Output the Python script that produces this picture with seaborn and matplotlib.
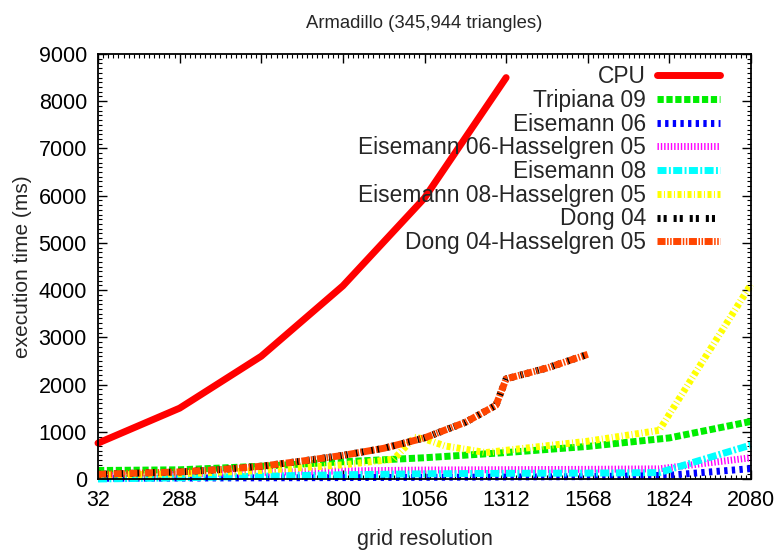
import matplotlib
matplotlib.use("Agg")
import matplotlib.pyplot as plt
from matplotlib.ticker import MultipleLocator, FixedLocator
import seaborn as sns

# Execution time (ms) against grid resolution, one list pair per method
cpu_x = [32, 288, 544, 800, 1056, 1312]
cpu_y = [760, 1500, 2600, 4090, 5950, 8500]

tripiana_x = [32, 288, 544, 800, 1056, 1312, 1568, 1824, 2080]
tripiana_y = [180, 195, 270, 365, 450, 560, 690, 870, 1220]

eis06_x = [32, 544, 1056, 1568, 1824, 2080]
eis06_y = [15, 25, 35, 50, 80, 220]

eis06h_x = [32, 288, 544, 800, 1056, 1568, 1792, 2080]
eis06h_y = [70, 100, 140, 170, 190, 205, 215, 450]

eis08_x = [32, 288, 544, 800, 1056, 1312, 1568, 1792, 2080]
eis08_y = [0, 25, 60, 90, 110, 120, 125, 135, 720]

eis08h_x = [32, 288, 544, 800, 960, 1024, 1056, 1120, 1248, 1568, 1792, 2080]
eis08h_y = [80, 110, 180, 300, 420, 880, 850, 700, 560, 800, 1030, 4120]

dong_x = [32, 288, 416, 544, 672, 800, 928, 1056, 1184, 1280, 1312, 1440, 1568]
dong_y = [100, 150, 200, 270, 380, 500, 650, 870, 1200, 1560, 2120, 2350, 2640]

dongh_x = [32, 288, 416, 544, 672, 800, 928, 1056, 1184, 1280, 1312, 1440, 1568]
dongh_y = [100, 150, 200, 270, 380, 500, 650, 870, 1200, 1560, 2120, 2350, 2640]

x_ticks = [32, 288, 544, 800, 1056, 1312, 1568, 1824, 2080]

sns.set_style("ticks")
plt.rcParams["font.family"] = ["Liberation Sans", "DejaVu Sans"]
plt.rcParams["lines.scale_dashes"] = False

FS = 15.5
fig = plt.figure(figsize=(7.79, 5.52), dpi=100)
ax = fig.add_axes([98 / 779, 1 - 479 / 552, (751 - 98) / 779, (479 - 54) / 552])

series = [
    ("CPU", cpu_x, cpu_y, "#ff0000", "-"),
    ("Tripiana 09", tripiana_x, tripiana_y, "#00ee00", (0, (4.5, 1.9))),
    ("Eisemann 06", eis06_x, eis06_y, "#0000ff", (0, (2.4, 3.1))),
    ("Eisemann 06-Hasselgren 05", eis06h_x, eis06h_y, "#ff00ff", (0, (1.0, 1.4))),
    ("Eisemann 08", eis08_x, eis08_y, "#00ffff", (0, (6.5, 1.7, 1.4, 1.7))),
    ("Eisemann 08-Hasselgren 05", eis08h_x, eis08h_y, "#ffff00", (0, (2.9, 1.8, 0.7, 1.8))),
    ("Dong 04", dong_x, dong_y, "#000000", (0, (2.2, 2.2, 2.2, 5.0))),
    ("Dong 04-Hasselgren 05", dongh_x, dongh_y, "#ff4500", (0, (5.8, 1.1, 1.1, 1.1, 1.1, 1.1))),
]

for name, xs, ys, col, ls in series:
    sns.lineplot(x=xs, y=ys, ax=ax, color=col, linewidth=5.0, linestyle=ls,
                 label=name, sort=False, clip_on=False)

ax.set_xlim(32, 2080)
ax.set_ylim(0, 9000)
ax.xaxis.set_major_locator(FixedLocator(x_ticks))
ax.xaxis.set_minor_locator(MultipleLocator(16))
ax.yaxis.set_major_locator(MultipleLocator(1000))
ax.yaxis.set_minor_locator(MultipleLocator(100))

ax.tick_params(which="both", direction="in", top=True, right=True, colors="black",
               labelsize=FS)
ax.tick_params(which="major", length=6.5, width=1.0, pad=8)
ax.tick_params(which="minor", length=3.2, width=0.8)
for sp in ax.spines.values():
    sp.set_linewidth(1.3)
    sp.set_color("black")

ax.set_xlabel("grid resolution", fontsize=15.6, labelpad=13)
ax.set_ylabel("execution time (ms)", fontsize=15.0, labelpad=5)
ax.set_title("Armadillo (345,944 triangles)", fontsize=13.3, pad=19)

leg = ax.legend(loc="upper right", frameon=False, markerfirst=False, fontsize=16.4,
                handlelength=2.75, handletextpad=0.5, labelspacing=0.03,
                borderaxespad=0.1, bbox_to_anchor=(0.970, 1.0))
for line in leg.get_lines():
    line.set_linewidth(5.0)

fig.savefig("out.png", dpi=100)
